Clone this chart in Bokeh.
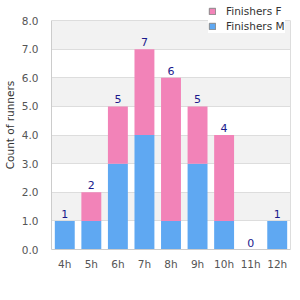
from bokeh.plotting import figure
from bokeh.models import (ColumnDataSource, Legend, LegendItem, SingleIntervalTicker,
                          NumeralTickFormatter, Range1d, LabelSet, LinearAxis)
from bokeh.core.properties import value
from bokeh.embed import file_html
from bokeh.resources import INLINE

categories = ["4h", "5h", "6h", "7h", "8h", "9h", "10h", "11h", "12h"]
finishers_m = [1, 1, 3, 4, 1, 3, 1, 0, 1]
finishers_f = [0, 1, 2, 3, 5, 2, 3, 0, 0]
totals = [m + f for m, f in zip(finishers_m, finishers_f)]

Y_MAX = 8
Y_TOP = 8 * 249 / 229  # extra room above the plot for the legend

src = ColumnDataSource(dict(cat=categories, m=finishers_m, f=finishers_f,
                            top=totals, lbl=[str(t) for t in totals]))
dummy = ColumnDataSource(dict(cat=[categories[0]], top=[float("nan")]))

FONT = "DejaVu Sans"
BLUE = "#5fa8f2"
PINK = "#f283b8"

p = figure(width=300, height=300, x_range=categories, y_range=Range1d(0, Y_TOP),
           output_backend="svg", toolbar_location=None,
           min_border_left=50, min_border_right=10, min_border_top=0, min_border_bottom=51)

r_m = p.vbar(x="cat", top="m", bottom=0, width=0.75, source=src, fill_color=BLUE, line_color=None)
r_f = p.vbar(x="cat", top="top", bottom="m", width=0.75, source=src, fill_color=PINK, line_color=None)

# legend-only glyphs (no visible data) with grey border
l_f = p.vbar(x="cat", top="top", width=0.75, source=dummy, fill_color=PINK, line_color="#888888")
l_m = p.vbar(x="cat", top="top", width=0.75, source=dummy, fill_color=BLUE, line_color="#888888")

labels = LabelSet(x="cat", y="top", text="lbl", source=src, text_align="center",
                  text_baseline="bottom", y_offset=3, text_font_size="11px",
                  text_color="#1a1a8c", text_font=value(FONT))
p.add_layout(labels)

p.yaxis.ticker = SingleIntervalTicker(interval=1)
p.yaxis.formatter = NumeralTickFormatter(format="0.0")
p.yaxis.bounds = (0, Y_MAX)
p.yaxis.axis_label = "Count of runners"
p.yaxis.axis_label_text_font_size = "10.5px"
p.yaxis.axis_label_text_font_style = "normal"
p.yaxis.axis_label_text_color = "#333333"
p.yaxis.axis_label_text_font = FONT
p.yaxis.axis_label_standoff = 3
for ax in (p.xaxis, p.yaxis):
    ax.major_label_text_font_size = "10.5px"
    ax.major_label_text_color = "#555555"
    ax.major_label_text_font = FONT
    ax.axis_line_color = "#cccccc"
    ax.major_tick_line_color = None
    ax.minor_tick_line_color = None
p.xaxis.major_tick_out = 0
p.xaxis.major_label_standoff = 8
p.yaxis.major_label_standoff = 7

right = LinearAxis(bounds=(0, Y_MAX), axis_line_color="#dddddd", major_tick_line_color=None,
                   minor_tick_line_color=None, major_label_text_font_size="0px",
                   ticker=SingleIntervalTicker(interval=1))
right.major_label_text_alpha = 0
p.add_layout(right, "right")

p.xgrid.grid_line_color = None
p.ygrid.grid_line_color = "#dddddd"
p.ygrid.band_fill_color = "#f2f2f2"
p.ygrid.band_fill_alpha = 1.0
p.ygrid.bounds = (0, Y_MAX)
p.outline_line_color = None
p.background_fill_color = "white"
p.border_fill_color = "white"

legend = Legend(items=[LegendItem(label="Finishers F", renderers=[l_f], index=0),
                       LegendItem(label="Finishers M", renderers=[l_m], index=0)],
                location=(157, 216), background_fill_color="white", background_fill_alpha=1.0,
                border_line_color=None, label_text_font_size="10.5px", label_text_font=FONT,
                label_text_color="#333333", glyph_width=8, glyph_height=8,
                label_height=14, spacing=1, padding=2, margin=0, label_standoff=10)
p.add_layout(legend, "center")

open("out.html", "w").write(file_html(p, INLINE))
